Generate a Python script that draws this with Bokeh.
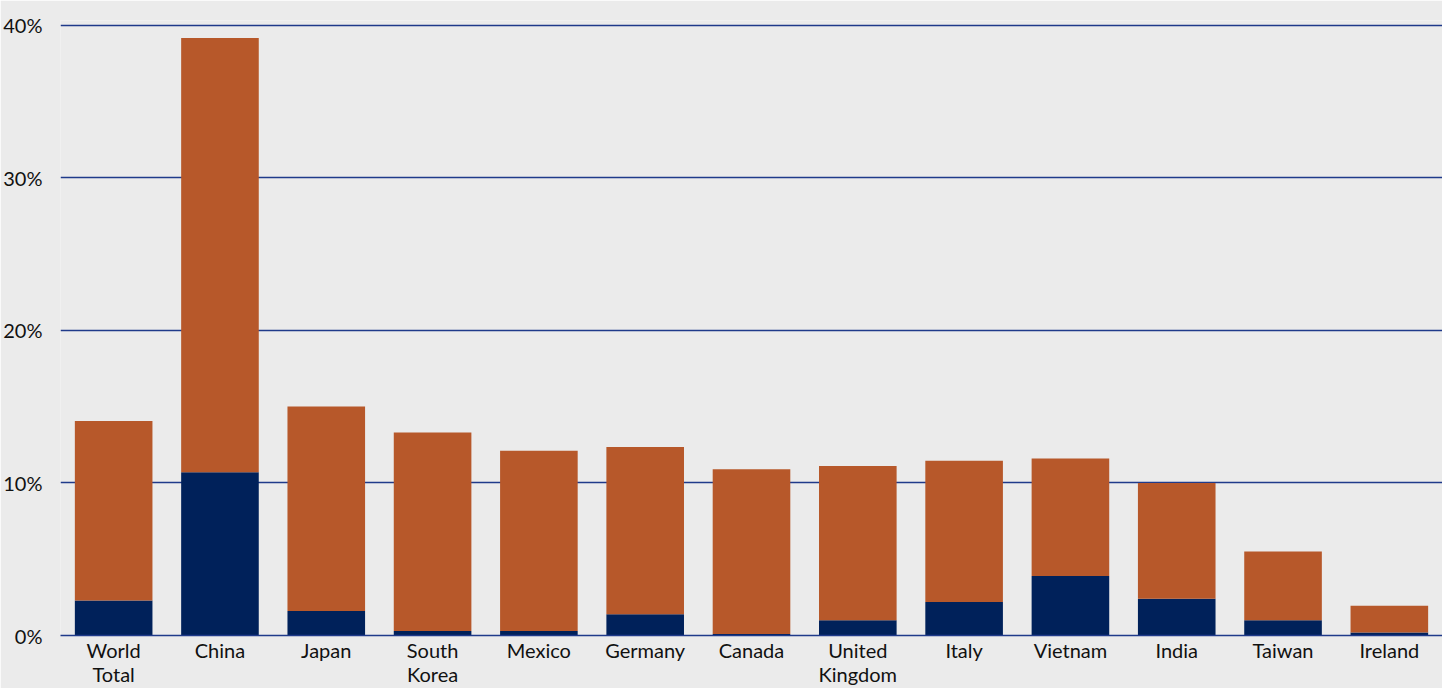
from bokeh.plotting import figure
from bokeh.models import FactorRange, Range1d, FixedTicker, PrintfTickFormatter, ColumnDataSource
from bokeh.embed import file_html
from bokeh.resources import INLINE

categories = ["World\nTotal", "China", "Japan", "South\nKorea", "Mexico", "Germany", "Canada",
              "United\nKingdom", "Italy", "Vietnam", "India", "Taiwan", "Ireland"]
navy_share = [2.3, 10.7, 1.6, 0.3, 0.3, 1.4, 0.1, 1.0, 2.2, 3.9, 2.4, 1.0, 0.2]
orange_share = [11.75, 28.45, 13.4, 13.0, 11.8, 10.95, 10.8, 10.1, 9.25, 7.7, 7.6, 4.5, 1.75]
y_ticks = [0, 10, 20, 30, 40]

NAVY = "#00215a"
ORANGE = "#b7582a"
GRID = "#1f3a8a"
BG = "#ebebeb"
FONT = "Lato"

src = ColumnDataSource(dict(cat=categories, navy=navy_share, orange=orange_share))

p = figure(width=1442, height=688, x_range=FactorRange(*categories), y_range=Range1d(0, 40.3),
           output_backend="svg", toolbar_location=None,
           min_border_left=60, min_border_right=0, min_border_top=20, min_border_bottom=40)

p.vbar_stack(["navy", "orange"], x="cat", width=0.73, color=[NAVY, ORANGE], source=src,
             line_color=None)

p.background_fill_color = BG
p.border_fill_color = BG
p.outline_line_color = None

p.xgrid.grid_line_color = None
p.ygrid.grid_line_color = GRID
p.ygrid.grid_line_width = 1.3
p.ygrid.ticker = FixedTicker(ticks=y_ticks[1:])

p.yaxis.ticker = FixedTicker(ticks=y_ticks)
p.yaxis.formatter = PrintfTickFormatter(format="%d%%")
p.yaxis.axis_line_color = None
p.yaxis.major_tick_line_color = None
p.yaxis.minor_tick_line_color = None
p.yaxis.major_label_standoff = 12
p.yaxis.major_label_text_font = FONT
p.yaxis.major_label_text_font_size = "20px"
p.yaxis.major_label_text_color = "#111111"

p.xaxis.axis_line_color = GRID
p.xaxis.axis_line_width = 1.5
p.xaxis.major_tick_line_color = None
p.xaxis.minor_tick_line_color = None
p.xaxis.major_tick_out = 0
p.xaxis.major_tick_in = 0
p.xaxis.major_label_standoff = 2
p.xaxis.major_label_text_font = FONT
p.xaxis.major_label_text_font_size = "20px"
p.xaxis.major_label_text_color = "#111111"
p.xaxis.major_label_text_line_height = 1.0

open("out.html", "w").write(file_html(p, INLINE))
